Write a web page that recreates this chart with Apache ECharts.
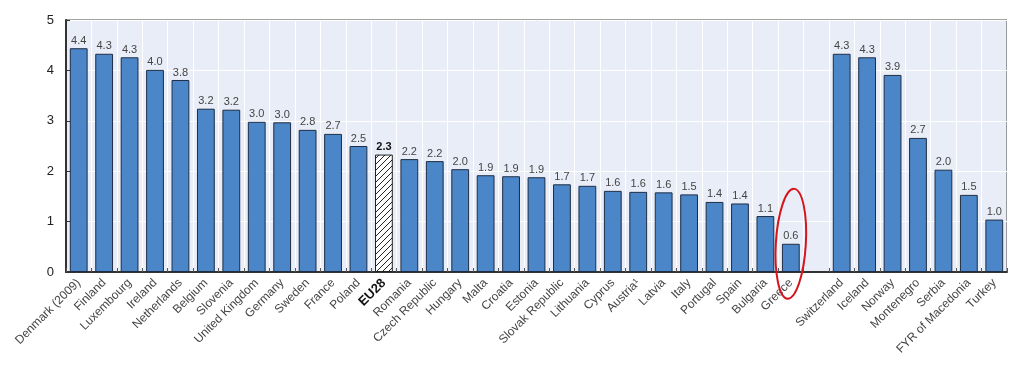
<!DOCTYPE html>
<html>
<head>
<meta charset="utf-8">
<script src="https://cdn.jsdelivr.net/npm/echarts@6/dist/echarts.min.js"></script>
<style>
html,body{margin:0;padding:0;background:#fff;}
#chart{width:1023px;height:371px;}
</style>
</head>
<body>
<div id="chart"></div>
<script>
var categories = ["Denmark (2009)","Finland","Luxembourg","Ireland","Netherlands","Belgium","Slovenia","United Kingdom","Germany","Sweden","France","Poland","EU28","Romania","Czech Republic","Hungary","Malta","Croatia","Estonia","Slovak Republic","Lithuania","Cyprus","Austria¹","Latvia","Italy","Portugal","Spain","Bulgaria","Greece","","Switzerland","Iceland","Norway","Montenegro","Serbia","FYR of Macedonia","Turkey"];
var values = [4.44,4.33,4.26,4.01,3.81,3.24,3.22,2.98,2.97,2.82,2.74,2.50,2.33,2.24,2.20,2.04,1.92,1.90,1.88,1.74,1.71,1.61,1.59,1.58,1.54,1.39,1.36,1.11,0.56,null,4.33,4.26,3.91,2.66,2.03,1.53,1.04];
var yTicks = [0,1,2,3,4,5];
var highlightCategory = "EU28";
var circledCategory = "Greece";

// hatch pattern for EU28
var pc = document.createElement('canvas');
pc.width = 6; pc.height = 6;
var pctx = pc.getContext('2d');
pctx.fillStyle = '#ffffff';
pctx.fillRect(0,0,6,6);
pctx.strokeStyle = '#222';
pctx.lineWidth = 1;
pctx.beginPath();
pctx.moveTo(0,6); pctx.lineTo(6,0);
pctx.moveTo(-3,3); pctx.lineTo(3,-3);
pctx.moveTo(3,9); pctx.lineTo(9,3);
pctx.stroke();

var seriesData = values.map(function(v, i){
  if (v === null) return '-';
  if (categories[i] === highlightCategory) {
    return {
      value: v,
      itemStyle: { color: { image: pc, repeat: 'repeat' }, borderColor: '#222', borderWidth: 1 },
      label: { fontWeight: 'bold', color: '#111' }
    };
  }
  return v;
});

var chart = echarts.init(document.getElementById('chart'));
chart.setOption({
  animation: false,
  backgroundColor: '#ffffff',
  grid: {
    left: 66, top: 20, right: 16, bottom: 99,
    show: true, backgroundColor: '#e9edf7', borderColor: '#444', borderWidth: 1
  },
  xAxis: {
    type: 'category',
    data: categories,
    boundaryGap: true,
    axisLine: { show: true, lineStyle: { color: '#333', width: 2 } },
    axisTick: { show: true, inside: true, length: 4, lineStyle: { color: '#555' } },
    splitLine: { show: true, lineStyle: { color: '#ffffff', width: 1 } },
    axisLabel: {
      interval: 0, rotate: 45, fontSize: 12, color: '#444', margin: 9,
      fontFamily: 'Liberation Sans, Arial, sans-serif',
      formatter: function(v){ return v === highlightCategory ? '{b|' + v + '}' : v; },
      rich: { b: { fontWeight: 'bold', fontSize: 13, color: '#111', fontFamily: 'Liberation Sans, Arial, sans-serif' } }
    }
  },
  yAxis: {
    type: 'value',
    min: yTicks[0], max: yTicks[yTicks.length-1], interval: 1,
    axisLine: { show: true, lineStyle: { color: '#333', width: 2 } },
    axisTick: { show: true, inside: true, length: 4, lineStyle: { color: '#333' } },
    splitLine: { show: true, lineStyle: { color: '#ffffff', width: 1 } },
    axisLabel: { fontSize: 13, color: '#222', margin: 12, fontFamily: 'Liberation Sans, Arial, sans-serif' }
  },
  series: [{
    type: 'bar',
    data: seriesData,
    barCategoryGap: '30%',
    itemStyle: { color: '#4a86c8', borderColor: '#1e2d45', borderWidth: 1 },
    label: {
      show: true, position: 'top', distance: 2, fontSize: 11, color: '#444',
      fontFamily: 'Liberation Sans, Arial, sans-serif',
      formatter: function(p){ return Number(p.value).toFixed(1); }
    }
  }]
});

// red ellipse annotation around the circled bar
var gi = categories.indexOf(circledCategory);
var c = chart.convertToPixel({ xAxisIndex: 0, yAxisIndex: 0 }, [gi, values[gi]]);
chart.setOption({
  graphic: [{
    type: 'ellipse',
    shape: { cx: c[0], cy: c[1], rx: 15, ry: 55 },
    rotation: -0.06,
    originX: c[0], originY: c[1],
    style: { fill: 'none', stroke: '#d4161c', lineWidth: 2 },
    z: 100
  }]
});
</script>
</body>
</html>
